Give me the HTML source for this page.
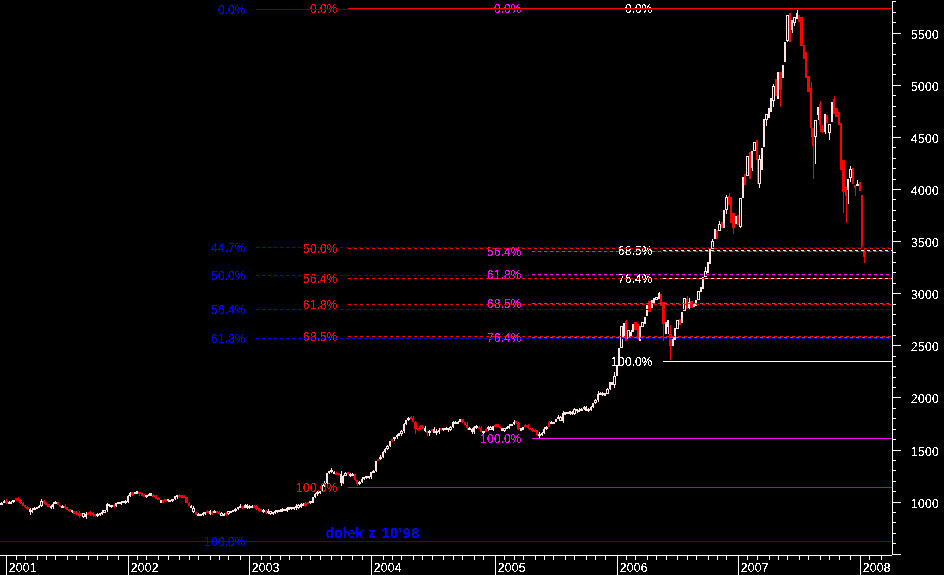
<!DOCTYPE html>
<html><head><meta charset="utf-8"><title>chart</title>
<style>
html,body{margin:0;padding:0;background:#000;}
body{width:944px;height:575px;overflow:hidden;}
svg{display:block;}
text{font-family:"Liberation Sans",sans-serif;font-size:12px;}
.b{font-weight:bold;font-size:14px;}
</style></head><body>
<svg width="944" height="575" viewBox="0 0 944 575">
<rect width="944" height="575" fill="#000"/>
<g shape-rendering="crispEdges">
<rect x="-1" y="505" width="1" height="3" fill="#ffe4e1"/>
<rect x="-2" y="505" width="2" height="2" fill="#ffe4e1"/>
<rect x="1" y="502" width="1" height="3" fill="#ffe4e1"/>
<rect x="0" y="503" width="3" height="2" fill="#ffe4e1"/>
<rect x="4" y="500" width="1" height="3" fill="#ffe4e1"/>
<rect x="3" y="501" width="2" height="2" fill="#ffe4e1"/>
<rect x="6" y="499" width="1" height="5" fill="#ff0000"/>
<rect x="5" y="501" width="3" height="2" fill="#ff0000"/>
<rect x="9" y="501" width="1" height="3" fill="#ffe4e1"/>
<rect x="8" y="502" width="2" height="2" fill="#ffe4e1"/>
<rect x="11" y="501" width="1" height="3" fill="#ffe4e1"/>
<rect x="10" y="502" width="2" height="2" fill="#ffe4e1"/>
<rect x="13" y="500" width="1" height="3" fill="#ffe4e1"/>
<rect x="12" y="500" width="3" height="2" fill="#ffe4e1"/>
<rect x="16" y="498" width="1" height="3" fill="#ff0000"/>
<rect x="15" y="498" width="2" height="2" fill="#ff0000"/>
<rect x="18" y="497" width="1" height="4" fill="#ff0000"/>
<rect x="17" y="498" width="2" height="2" fill="#ff0000"/>
<rect x="20" y="499" width="1" height="5" fill="#ff0000"/>
<rect x="19" y="500" width="3" height="3" fill="#ff0000"/>
<rect x="23" y="502" width="1" height="4" fill="#ff0000"/>
<rect x="22" y="503" width="2" height="3" fill="#ff0000"/>
<rect x="25" y="505" width="1" height="3" fill="#ff0000"/>
<rect x="24" y="505" width="2" height="2" fill="#ff0000"/>
<rect x="27" y="506" width="1" height="4" fill="#ff0000"/>
<rect x="26" y="507" width="3" height="2" fill="#ff0000"/>
<rect x="30" y="508" width="1" height="7" fill="#ffe4e1"/>
<rect x="29" y="509" width="2" height="3" fill="#ffe4e1"/>
<rect x="32" y="508" width="1" height="5" fill="#ffe4e1"/>
<rect x="31" y="510" width="2" height="2" fill="#ffe4e1"/>
<rect x="34" y="507" width="1" height="3" fill="#ffe4e1"/>
<rect x="33" y="508" width="3" height="2" fill="#ffe4e1"/>
<rect x="37" y="507" width="1" height="2" fill="#ffe4e1"/>
<rect x="36" y="507" width="2" height="2" fill="#ffe4e1"/>
<rect x="39" y="505" width="1" height="3" fill="#ffe4e1"/>
<rect x="38" y="506" width="2" height="2" fill="#ffe4e1"/>
<rect x="41" y="499" width="1" height="8" fill="#ffe4e1"/>
<rect x="40" y="501" width="3" height="5" fill="#ffe4e1"/>
<rect x="41" y="502" width="1" height="3" fill="#000"/>
<rect x="44" y="500" width="1" height="4" fill="#ff0000"/>
<rect x="43" y="501" width="2" height="2" fill="#ff0000"/>
<rect x="46" y="502" width="1" height="3" fill="#ff0000"/>
<rect x="45" y="502" width="2" height="3" fill="#ff0000"/>
<rect x="48" y="504" width="1" height="3" fill="#ff0000"/>
<rect x="47" y="504" width="3" height="3" fill="#ff0000"/>
<rect x="51" y="505" width="1" height="4" fill="#ffe4e1"/>
<rect x="50" y="506" width="2" height="2" fill="#ffe4e1"/>
<rect x="53" y="502" width="1" height="7" fill="#ffe4e1"/>
<rect x="52" y="504" width="2" height="3" fill="#ffe4e1"/>
<rect x="55" y="501" width="1" height="3" fill="#ffe4e1"/>
<rect x="54" y="502" width="3" height="2" fill="#ffe4e1"/>
<rect x="58" y="502" width="1" height="3" fill="#ff0000"/>
<rect x="57" y="502" width="2" height="3" fill="#ff0000"/>
<rect x="60" y="505" width="1" height="2" fill="#ff0000"/>
<rect x="59" y="505" width="2" height="2" fill="#ff0000"/>
<rect x="62" y="505" width="1" height="3" fill="#ffe4e1"/>
<rect x="61" y="506" width="3" height="2" fill="#ffe4e1"/>
<rect x="65" y="504" width="1" height="5" fill="#ff0000"/>
<rect x="64" y="506" width="2" height="2" fill="#ff0000"/>
<rect x="67" y="507" width="1" height="3" fill="#ff0000"/>
<rect x="66" y="507" width="2" height="3" fill="#ff0000"/>
<rect x="69" y="509" width="1" height="3" fill="#ff0000"/>
<rect x="68" y="509" width="3" height="2" fill="#ff0000"/>
<rect x="72" y="510" width="1" height="3" fill="#ffe4e1"/>
<rect x="71" y="510" width="2" height="2" fill="#ffe4e1"/>
<rect x="74" y="511" width="1" height="3" fill="#ff0000"/>
<rect x="73" y="511" width="2" height="3" fill="#ff0000"/>
<rect x="76" y="511" width="1" height="4" fill="#ff0000"/>
<rect x="75" y="512" width="3" height="2" fill="#ff0000"/>
<rect x="79" y="511" width="1" height="7" fill="#ff0000"/>
<rect x="78" y="513" width="2" height="3" fill="#ff0000"/>
<rect x="81" y="513" width="1" height="3" fill="#ff0000"/>
<rect x="80" y="513" width="2" height="3" fill="#ff0000"/>
<rect x="83" y="513" width="1" height="5" fill="#ffe4e1"/>
<rect x="82" y="513" width="3" height="4" fill="#ffe4e1"/>
<rect x="83" y="514" width="1" height="2" fill="#000"/>
<rect x="86" y="512" width="1" height="7" fill="#ffe4e1"/>
<rect x="85" y="514" width="2" height="3" fill="#ffe4e1"/>
<rect x="88" y="512" width="1" height="3" fill="#ff0000"/>
<rect x="87" y="513" width="2" height="2" fill="#ff0000"/>
<rect x="90" y="511" width="1" height="5" fill="#ff0000"/>
<rect x="89" y="512" width="3" height="2" fill="#ff0000"/>
<rect x="93" y="512" width="1" height="5" fill="#ff0000"/>
<rect x="92" y="513" width="2" height="2" fill="#ff0000"/>
<rect x="95" y="514" width="1" height="3" fill="#ff0000"/>
<rect x="94" y="514" width="2" height="2" fill="#ff0000"/>
<rect x="97" y="513" width="1" height="4" fill="#ffe4e1"/>
<rect x="96" y="514" width="3" height="2" fill="#ffe4e1"/>
<rect x="100" y="513" width="1" height="3" fill="#ffe4e1"/>
<rect x="99" y="513" width="2" height="2" fill="#ffe4e1"/>
<rect x="102" y="510" width="1" height="5" fill="#ffe4e1"/>
<rect x="101" y="512" width="2" height="2" fill="#ffe4e1"/>
<rect x="104" y="510" width="1" height="3" fill="#ffe4e1"/>
<rect x="103" y="510" width="3" height="3" fill="#ffe4e1"/>
<rect x="104" y="511" width="1" height="1" fill="#000"/>
<rect x="107" y="503" width="1" height="9" fill="#ffe4e1"/>
<rect x="106" y="504" width="2" height="6" fill="#ffe4e1"/>
<rect x="109" y="504" width="1" height="3" fill="#ffe4e1"/>
<rect x="108" y="504" width="2" height="2" fill="#ffe4e1"/>
<rect x="111" y="505" width="1" height="3" fill="#ffe4e1"/>
<rect x="110" y="505" width="3" height="2" fill="#ffe4e1"/>
<rect x="114" y="504" width="1" height="4" fill="#ff0000"/>
<rect x="113" y="505" width="2" height="2" fill="#ff0000"/>
<rect x="116" y="503" width="1" height="4" fill="#ffe4e1"/>
<rect x="115" y="503" width="2" height="3" fill="#ffe4e1"/>
<rect x="118" y="502" width="1" height="2" fill="#ffe4e1"/>
<rect x="117" y="502" width="3" height="2" fill="#ffe4e1"/>
<rect x="121" y="501" width="1" height="4" fill="#ffe4e1"/>
<rect x="120" y="502" width="2" height="2" fill="#ffe4e1"/>
<rect x="123" y="501" width="1" height="2" fill="#ffe4e1"/>
<rect x="122" y="501" width="2" height="2" fill="#ffe4e1"/>
<rect x="125" y="500" width="1" height="4" fill="#ffe4e1"/>
<rect x="124" y="501" width="3" height="2" fill="#ffe4e1"/>
<rect x="128" y="495" width="1" height="8" fill="#ffe4e1"/>
<rect x="127" y="496" width="2" height="6" fill="#ffe4e1"/>
<rect x="130" y="492" width="1" height="5" fill="#ffe4e1"/>
<rect x="129" y="493" width="2" height="3" fill="#ffe4e1"/>
<rect x="132" y="492" width="1" height="4" fill="#ff0000"/>
<rect x="131" y="492" width="3" height="3" fill="#ff0000"/>
<rect x="135" y="492" width="1" height="2" fill="#ffe4e1"/>
<rect x="134" y="492" width="2" height="2" fill="#ffe4e1"/>
<rect x="137" y="491" width="1" height="3" fill="#ffe4e1"/>
<rect x="136" y="491" width="2" height="3" fill="#ffe4e1"/>
<rect x="139" y="492" width="1" height="4" fill="#ff0000"/>
<rect x="138" y="492" width="3" height="2" fill="#ff0000"/>
<rect x="142" y="493" width="1" height="3" fill="#ff0000"/>
<rect x="141" y="493" width="2" height="3" fill="#ff0000"/>
<rect x="144" y="494" width="1" height="3" fill="#ff0000"/>
<rect x="143" y="495" width="2" height="2" fill="#ff0000"/>
<rect x="146" y="495" width="1" height="3" fill="#ffe4e1"/>
<rect x="145" y="495" width="3" height="2" fill="#ffe4e1"/>
<rect x="149" y="493" width="1" height="3" fill="#ffe4e1"/>
<rect x="148" y="494" width="2" height="2" fill="#ffe4e1"/>
<rect x="151" y="493" width="1" height="3" fill="#ffe4e1"/>
<rect x="150" y="493" width="2" height="3" fill="#ffe4e1"/>
<rect x="153" y="494" width="1" height="3" fill="#ff0000"/>
<rect x="152" y="495" width="3" height="2" fill="#ff0000"/>
<rect x="156" y="495" width="1" height="4" fill="#ff0000"/>
<rect x="155" y="496" width="2" height="3" fill="#ff0000"/>
<rect x="158" y="497" width="1" height="3" fill="#ff0000"/>
<rect x="157" y="498" width="3" height="2" fill="#ff0000"/>
<rect x="161" y="500" width="1" height="3" fill="#ffe4e1"/>
<rect x="160" y="500" width="2" height="3" fill="#ffe4e1"/>
<rect x="163" y="500" width="1" height="3" fill="#ff0000"/>
<rect x="162" y="500" width="2" height="3" fill="#ff0000"/>
<rect x="165" y="499" width="1" height="3" fill="#ff0000"/>
<rect x="164" y="499" width="3" height="2" fill="#ff0000"/>
<rect x="168" y="499" width="1" height="3" fill="#ffe4e1"/>
<rect x="167" y="499" width="2" height="2" fill="#ffe4e1"/>
<rect x="170" y="500" width="1" height="2" fill="#ffe4e1"/>
<rect x="169" y="500" width="2" height="2" fill="#ffe4e1"/>
<rect x="172" y="499" width="1" height="3" fill="#ffe4e1"/>
<rect x="171" y="499" width="3" height="2" fill="#ffe4e1"/>
<rect x="175" y="496" width="1" height="4" fill="#ffe4e1"/>
<rect x="174" y="496" width="2" height="3" fill="#ffe4e1"/>
<rect x="177" y="495" width="1" height="4" fill="#ffe4e1"/>
<rect x="176" y="495" width="2" height="2" fill="#ffe4e1"/>
<rect x="179" y="494" width="1" height="4" fill="#ff0000"/>
<rect x="178" y="495" width="3" height="2" fill="#ff0000"/>
<rect x="182" y="495" width="1" height="3" fill="#ff0000"/>
<rect x="181" y="495" width="2" height="3" fill="#ff0000"/>
<rect x="184" y="495" width="1" height="3" fill="#ff0000"/>
<rect x="183" y="496" width="2" height="2" fill="#ff0000"/>
<rect x="186" y="497" width="1" height="6" fill="#ff0000"/>
<rect x="185" y="497" width="3" height="6" fill="#ff0000"/>
<rect x="189" y="502" width="1" height="4" fill="#ff0000"/>
<rect x="188" y="503" width="2" height="3" fill="#ff0000"/>
<rect x="191" y="505" width="1" height="3" fill="#ffe4e1"/>
<rect x="190" y="506" width="2" height="2" fill="#ffe4e1"/>
<rect x="193" y="506" width="1" height="7" fill="#ffe4e1"/>
<rect x="192" y="508" width="3" height="4" fill="#ffe4e1"/>
<rect x="193" y="509" width="1" height="2" fill="#000"/>
<rect x="196" y="512" width="1" height="3" fill="#ff0000"/>
<rect x="195" y="512" width="2" height="3" fill="#ff0000"/>
<rect x="198" y="513" width="1" height="3" fill="#ffe4e1"/>
<rect x="197" y="514" width="2" height="2" fill="#ffe4e1"/>
<rect x="200" y="514" width="1" height="2" fill="#ffe4e1"/>
<rect x="199" y="514" width="3" height="2" fill="#ffe4e1"/>
<rect x="203" y="512" width="1" height="4" fill="#ffe4e1"/>
<rect x="202" y="513" width="2" height="2" fill="#ffe4e1"/>
<rect x="205" y="512" width="1" height="3" fill="#ffe4e1"/>
<rect x="204" y="512" width="2" height="2" fill="#ffe4e1"/>
<rect x="207" y="510" width="1" height="3" fill="#ff0000"/>
<rect x="206" y="511" width="3" height="2" fill="#ff0000"/>
<rect x="210" y="510" width="1" height="5" fill="#ffe4e1"/>
<rect x="209" y="511" width="2" height="3" fill="#ffe4e1"/>
<rect x="212" y="511" width="1" height="4" fill="#ff0000"/>
<rect x="211" y="512" width="2" height="2" fill="#ff0000"/>
<rect x="214" y="510" width="1" height="3" fill="#ffe4e1"/>
<rect x="213" y="511" width="3" height="2" fill="#ffe4e1"/>
<rect x="217" y="511" width="1" height="2" fill="#ff0000"/>
<rect x="216" y="511" width="2" height="2" fill="#ff0000"/>
<rect x="219" y="511" width="1" height="4" fill="#ff0000"/>
<rect x="218" y="512" width="2" height="2" fill="#ff0000"/>
<rect x="221" y="512" width="1" height="4" fill="#ffe4e1"/>
<rect x="220" y="513" width="3" height="3" fill="#ffe4e1"/>
<rect x="221" y="514" width="1" height="1" fill="#000"/>
<rect x="224" y="513" width="1" height="3" fill="#ffe4e1"/>
<rect x="223" y="514" width="2" height="2" fill="#ffe4e1"/>
<rect x="226" y="512" width="1" height="4" fill="#ff0000"/>
<rect x="225" y="513" width="2" height="2" fill="#ff0000"/>
<rect x="228" y="511" width="1" height="4" fill="#ffe4e1"/>
<rect x="227" y="511" width="3" height="3" fill="#ffe4e1"/>
<rect x="228" y="512" width="1" height="1" fill="#000"/>
<rect x="231" y="511" width="1" height="2" fill="#ffe4e1"/>
<rect x="230" y="511" width="2" height="2" fill="#ffe4e1"/>
<rect x="233" y="510" width="1" height="2" fill="#ffe4e1"/>
<rect x="232" y="510" width="2" height="2" fill="#ffe4e1"/>
<rect x="235" y="508" width="1" height="4" fill="#ffe4e1"/>
<rect x="234" y="509" width="3" height="2" fill="#ffe4e1"/>
<rect x="238" y="507" width="1" height="3" fill="#ffe4e1"/>
<rect x="237" y="507" width="2" height="2" fill="#ffe4e1"/>
<rect x="240" y="504" width="1" height="4" fill="#ffe4e1"/>
<rect x="239" y="506" width="2" height="2" fill="#ffe4e1"/>
<rect x="242" y="506" width="1" height="3" fill="#ff0000"/>
<rect x="241" y="506" width="3" height="2" fill="#ff0000"/>
<rect x="245" y="504" width="1" height="4" fill="#ffe4e1"/>
<rect x="244" y="505" width="2" height="3" fill="#ffe4e1"/>
<rect x="247" y="504" width="1" height="5" fill="#ffe4e1"/>
<rect x="246" y="505" width="2" height="3" fill="#ffe4e1"/>
<rect x="249" y="505" width="1" height="4" fill="#ffe4e1"/>
<rect x="248" y="506" width="3" height="2" fill="#ffe4e1"/>
<rect x="252" y="505" width="1" height="3" fill="#ffe4e1"/>
<rect x="251" y="506" width="2" height="2" fill="#ffe4e1"/>
<rect x="254" y="505" width="1" height="3" fill="#ff0000"/>
<rect x="253" y="506" width="2" height="2" fill="#ff0000"/>
<rect x="256" y="505" width="1" height="5" fill="#ff0000"/>
<rect x="255" y="506" width="3" height="3" fill="#ff0000"/>
<rect x="259" y="508" width="1" height="4" fill="#ff0000"/>
<rect x="258" y="508" width="2" height="3" fill="#ff0000"/>
<rect x="261" y="509" width="1" height="3" fill="#ff0000"/>
<rect x="260" y="509" width="2" height="2" fill="#ff0000"/>
<rect x="263" y="509" width="1" height="4" fill="#ffe4e1"/>
<rect x="262" y="510" width="3" height="2" fill="#ffe4e1"/>
<rect x="266" y="510" width="1" height="4" fill="#ff0000"/>
<rect x="265" y="511" width="2" height="2" fill="#ff0000"/>
<rect x="268" y="509" width="1" height="5" fill="#ffe4e1"/>
<rect x="267" y="511" width="2" height="2" fill="#ffe4e1"/>
<rect x="270" y="511" width="1" height="4" fill="#ffe4e1"/>
<rect x="269" y="511" width="3" height="3" fill="#ffe4e1"/>
<rect x="270" y="512" width="1" height="1" fill="#000"/>
<rect x="273" y="512" width="1" height="3" fill="#ffe4e1"/>
<rect x="272" y="512" width="2" height="2" fill="#ffe4e1"/>
<rect x="275" y="510" width="1" height="4" fill="#ffe4e1"/>
<rect x="274" y="511" width="2" height="2" fill="#ffe4e1"/>
<rect x="277" y="510" width="1" height="3" fill="#ffe4e1"/>
<rect x="276" y="510" width="3" height="2" fill="#ffe4e1"/>
<rect x="280" y="509" width="1" height="3" fill="#ffe4e1"/>
<rect x="279" y="510" width="2" height="2" fill="#ffe4e1"/>
<rect x="282" y="508" width="1" height="4" fill="#ffe4e1"/>
<rect x="281" y="509" width="2" height="3" fill="#ffe4e1"/>
<rect x="284" y="509" width="1" height="2" fill="#ffe4e1"/>
<rect x="283" y="509" width="3" height="2" fill="#ffe4e1"/>
<rect x="287" y="507" width="1" height="5" fill="#ffe4e1"/>
<rect x="286" y="508" width="2" height="3" fill="#ffe4e1"/>
<rect x="289" y="507" width="1" height="3" fill="#ffe4e1"/>
<rect x="288" y="507" width="2" height="3" fill="#ffe4e1"/>
<rect x="291" y="507" width="1" height="3" fill="#ffe4e1"/>
<rect x="290" y="507" width="3" height="2" fill="#ffe4e1"/>
<rect x="294" y="507" width="1" height="3" fill="#ffe4e1"/>
<rect x="293" y="507" width="2" height="2" fill="#ffe4e1"/>
<rect x="296" y="504" width="1" height="6" fill="#ffe4e1"/>
<rect x="295" y="506" width="2" height="2" fill="#ffe4e1"/>
<rect x="298" y="504" width="1" height="5" fill="#ffe4e1"/>
<rect x="297" y="505" width="3" height="3" fill="#ffe4e1"/>
<rect x="298" y="506" width="1" height="1" fill="#000"/>
<rect x="301" y="503" width="1" height="5" fill="#ffe4e1"/>
<rect x="300" y="504" width="2" height="3" fill="#ffe4e1"/>
<rect x="303" y="503" width="1" height="3" fill="#ffe4e1"/>
<rect x="302" y="504" width="2" height="2" fill="#ffe4e1"/>
<rect x="305" y="502" width="1" height="5" fill="#ff0000"/>
<rect x="304" y="503" width="3" height="3" fill="#ff0000"/>
<rect x="308" y="502" width="1" height="2" fill="#ff0000"/>
<rect x="307" y="502" width="2" height="2" fill="#ff0000"/>
<rect x="310" y="501" width="1" height="3" fill="#ffe4e1"/>
<rect x="309" y="501" width="3" height="2" fill="#ffe4e1"/>
<rect x="313" y="497" width="1" height="6" fill="#ffe4e1"/>
<rect x="312" y="497" width="2" height="6" fill="#ffe4e1"/>
<rect x="315" y="493" width="1" height="5" fill="#ffe4e1"/>
<rect x="314" y="494" width="2" height="3" fill="#ffe4e1"/>
<rect x="317" y="491" width="1" height="5" fill="#ffe4e1"/>
<rect x="316" y="492" width="3" height="2" fill="#ffe4e1"/>
<rect x="320" y="491" width="1" height="3" fill="#ffe4e1"/>
<rect x="319" y="491" width="2" height="2" fill="#ffe4e1"/>
<rect x="322" y="485" width="1" height="7" fill="#ffe4e1"/>
<rect x="321" y="486" width="2" height="5" fill="#ffe4e1"/>
<rect x="324" y="481" width="1" height="6" fill="#ffe4e1"/>
<rect x="323" y="483" width="3" height="3" fill="#ffe4e1"/>
<rect x="324" y="484" width="1" height="1" fill="#000"/>
<rect x="327" y="473" width="1" height="12" fill="#ffe4e1"/>
<rect x="326" y="473" width="2" height="10" fill="#ffe4e1"/>
<rect x="329" y="471" width="1" height="3" fill="#ffe4e1"/>
<rect x="328" y="471" width="2" height="2" fill="#ffe4e1"/>
<rect x="331" y="468" width="1" height="5" fill="#ffe4e1"/>
<rect x="330" y="470" width="3" height="2" fill="#ffe4e1"/>
<rect x="334" y="471" width="1" height="3" fill="#ffe4e1"/>
<rect x="333" y="472" width="2" height="2" fill="#ffe4e1"/>
<rect x="336" y="472" width="1" height="3" fill="#ff0000"/>
<rect x="335" y="473" width="2" height="2" fill="#ff0000"/>
<rect x="338" y="473" width="1" height="2" fill="#ff0000"/>
<rect x="337" y="473" width="3" height="2" fill="#ff0000"/>
<rect x="341" y="471" width="1" height="15" fill="#ffe4e1"/>
<rect x="340" y="474" width="2" height="9" fill="#ffe4e1"/>
<rect x="343" y="475" width="1" height="9" fill="#ffe4e1"/>
<rect x="342" y="476" width="2" height="7" fill="#ffe4e1"/>
<rect x="345" y="472" width="1" height="4" fill="#ffe4e1"/>
<rect x="344" y="473" width="3" height="3" fill="#ffe4e1"/>
<rect x="345" y="474" width="1" height="1" fill="#000"/>
<rect x="348" y="472" width="1" height="3" fill="#ff0000"/>
<rect x="347" y="472" width="2" height="2" fill="#ff0000"/>
<rect x="350" y="473" width="1" height="4" fill="#ffe4e1"/>
<rect x="349" y="474" width="2" height="2" fill="#ffe4e1"/>
<rect x="352" y="473" width="1" height="3" fill="#ffe4e1"/>
<rect x="351" y="474" width="3" height="2" fill="#ffe4e1"/>
<rect x="355" y="474" width="1" height="7" fill="#ff0000"/>
<rect x="354" y="474" width="2" height="6" fill="#ff0000"/>
<rect x="357" y="480" width="1" height="6" fill="#ff0000"/>
<rect x="356" y="480" width="2" height="4" fill="#ff0000"/>
<rect x="359" y="481" width="1" height="4" fill="#ffe4e1"/>
<rect x="358" y="482" width="3" height="2" fill="#ffe4e1"/>
<rect x="362" y="477" width="1" height="6" fill="#ffe4e1"/>
<rect x="361" y="479" width="2" height="3" fill="#ffe4e1"/>
<rect x="364" y="477" width="1" height="3" fill="#ffe4e1"/>
<rect x="363" y="477" width="2" height="2" fill="#ffe4e1"/>
<rect x="366" y="476" width="1" height="3" fill="#ffe4e1"/>
<rect x="365" y="476" width="3" height="2" fill="#ffe4e1"/>
<rect x="369" y="476" width="1" height="3" fill="#ffe4e1"/>
<rect x="368" y="476" width="2" height="2" fill="#ffe4e1"/>
<rect x="371" y="472" width="1" height="7" fill="#ffe4e1"/>
<rect x="370" y="472" width="2" height="5" fill="#ffe4e1"/>
<rect x="373" y="470" width="1" height="3" fill="#ffe4e1"/>
<rect x="372" y="471" width="3" height="2" fill="#ffe4e1"/>
<rect x="376" y="461" width="1" height="11" fill="#ffe4e1"/>
<rect x="375" y="461" width="2" height="10" fill="#ffe4e1"/>
<rect x="378" y="459" width="1" height="2" fill="#ff0000"/>
<rect x="377" y="459" width="2" height="2" fill="#ff0000"/>
<rect x="380" y="455" width="1" height="5" fill="#ffe4e1"/>
<rect x="379" y="457" width="3" height="2" fill="#ffe4e1"/>
<rect x="383" y="451" width="1" height="7" fill="#ffe4e1"/>
<rect x="382" y="452" width="2" height="5" fill="#ffe4e1"/>
<rect x="385" y="448" width="1" height="5" fill="#ffe4e1"/>
<rect x="384" y="449" width="2" height="3" fill="#ffe4e1"/>
<rect x="387" y="445" width="1" height="5" fill="#ffe4e1"/>
<rect x="386" y="446" width="3" height="3" fill="#ffe4e1"/>
<rect x="387" y="447" width="1" height="1" fill="#000"/>
<rect x="390" y="441" width="1" height="6" fill="#ffe4e1"/>
<rect x="389" y="441" width="2" height="5" fill="#ffe4e1"/>
<rect x="392" y="439" width="1" height="3" fill="#ff0000"/>
<rect x="391" y="439" width="2" height="2" fill="#ff0000"/>
<rect x="394" y="437" width="1" height="4" fill="#ffe4e1"/>
<rect x="393" y="437" width="3" height="2" fill="#ffe4e1"/>
<rect x="397" y="434" width="1" height="5" fill="#ffe4e1"/>
<rect x="396" y="435" width="2" height="2" fill="#ffe4e1"/>
<rect x="399" y="433" width="1" height="3" fill="#ffe4e1"/>
<rect x="398" y="433" width="2" height="3" fill="#ffe4e1"/>
<rect x="401" y="430" width="1" height="6" fill="#ffe4e1"/>
<rect x="400" y="431" width="3" height="3" fill="#ffe4e1"/>
<rect x="401" y="432" width="1" height="1" fill="#000"/>
<rect x="404" y="423" width="1" height="10" fill="#ffe4e1"/>
<rect x="403" y="424" width="2" height="7" fill="#ffe4e1"/>
<rect x="406" y="420" width="1" height="5" fill="#ffe4e1"/>
<rect x="405" y="420" width="2" height="4" fill="#ffe4e1"/>
<rect x="408" y="417" width="1" height="4" fill="#ffe4e1"/>
<rect x="407" y="418" width="3" height="2" fill="#ffe4e1"/>
<rect x="411" y="416" width="1" height="3" fill="#ff0000"/>
<rect x="410" y="417" width="2" height="2" fill="#ff0000"/>
<rect x="413" y="416" width="1" height="6" fill="#ff0000"/>
<rect x="412" y="418" width="2" height="4" fill="#ff0000"/>
<rect x="415" y="421" width="1" height="13" fill="#ff0000"/>
<rect x="414" y="422" width="3" height="7" fill="#ff0000"/>
<rect x="418" y="428" width="1" height="3" fill="#ff0000"/>
<rect x="417" y="428" width="2" height="2" fill="#ff0000"/>
<rect x="420" y="425" width="1" height="5" fill="#ff0000"/>
<rect x="419" y="426" width="2" height="3" fill="#ff0000"/>
<rect x="422" y="425" width="1" height="4" fill="#ff0000"/>
<rect x="421" y="426" width="3" height="2" fill="#ff0000"/>
<rect x="425" y="426" width="1" height="6" fill="#ffe4e1"/>
<rect x="424" y="428" width="2" height="3" fill="#ffe4e1"/>
<rect x="427" y="431" width="1" height="5" fill="#ff0000"/>
<rect x="426" y="431" width="2" height="2" fill="#ff0000"/>
<rect x="429" y="430" width="1" height="6" fill="#ffe4e1"/>
<rect x="428" y="431" width="3" height="2" fill="#ffe4e1"/>
<rect x="432" y="429" width="1" height="3" fill="#ff0000"/>
<rect x="431" y="429" width="2" height="2" fill="#ff0000"/>
<rect x="434" y="427" width="1" height="6" fill="#ffe4e1"/>
<rect x="433" y="429" width="2" height="4" fill="#ffe4e1"/>
<rect x="436" y="429" width="1" height="6" fill="#ffe4e1"/>
<rect x="435" y="431" width="3" height="2" fill="#ffe4e1"/>
<rect x="439" y="428" width="1" height="6" fill="#ffe4e1"/>
<rect x="438" y="430" width="2" height="2" fill="#ffe4e1"/>
<rect x="441" y="428" width="1" height="3" fill="#ff0000"/>
<rect x="440" y="428" width="2" height="2" fill="#ff0000"/>
<rect x="443" y="428" width="1" height="3" fill="#ffe4e1"/>
<rect x="442" y="428" width="3" height="2" fill="#ffe4e1"/>
<rect x="446" y="427" width="1" height="3" fill="#ffe4e1"/>
<rect x="445" y="428" width="2" height="2" fill="#ffe4e1"/>
<rect x="448" y="428" width="1" height="4" fill="#ffe4e1"/>
<rect x="447" y="428" width="2" height="2" fill="#ffe4e1"/>
<rect x="450" y="426" width="1" height="5" fill="#ffe4e1"/>
<rect x="449" y="427" width="3" height="3" fill="#ffe4e1"/>
<rect x="450" y="428" width="1" height="1" fill="#000"/>
<rect x="453" y="421" width="1" height="7" fill="#ffe4e1"/>
<rect x="452" y="422" width="2" height="5" fill="#ffe4e1"/>
<rect x="455" y="421" width="1" height="3" fill="#ffe4e1"/>
<rect x="454" y="422" width="3" height="2" fill="#ffe4e1"/>
<rect x="458" y="421" width="1" height="3" fill="#ffe4e1"/>
<rect x="457" y="422" width="2" height="2" fill="#ffe4e1"/>
<rect x="460" y="419" width="1" height="3" fill="#ffe4e1"/>
<rect x="459" y="419" width="2" height="3" fill="#ffe4e1"/>
<rect x="462" y="419" width="1" height="4" fill="#ff0000"/>
<rect x="461" y="419" width="3" height="3" fill="#ff0000"/>
<rect x="465" y="422" width="1" height="3" fill="#ff0000"/>
<rect x="464" y="422" width="2" height="3" fill="#ff0000"/>
<rect x="467" y="422" width="1" height="8" fill="#ff0000"/>
<rect x="466" y="425" width="2" height="3" fill="#ff0000"/>
<rect x="469" y="427" width="1" height="3" fill="#ffe4e1"/>
<rect x="468" y="428" width="3" height="2" fill="#ffe4e1"/>
<rect x="472" y="428" width="1" height="6" fill="#ffe4e1"/>
<rect x="471" y="429" width="2" height="3" fill="#ffe4e1"/>
<rect x="474" y="426" width="1" height="8" fill="#ffe4e1"/>
<rect x="473" y="427" width="2" height="5" fill="#ffe4e1"/>
<rect x="476" y="425" width="1" height="4" fill="#ffe4e1"/>
<rect x="475" y="426" width="3" height="2" fill="#ffe4e1"/>
<rect x="479" y="426" width="1" height="3" fill="#ff0000"/>
<rect x="478" y="427" width="2" height="2" fill="#ff0000"/>
<rect x="481" y="426" width="1" height="6" fill="#ff0000"/>
<rect x="480" y="428" width="2" height="4" fill="#ff0000"/>
<rect x="483" y="431" width="1" height="3" fill="#ffe4e1"/>
<rect x="482" y="431" width="3" height="2" fill="#ffe4e1"/>
<rect x="486" y="428" width="1" height="4" fill="#ff0000"/>
<rect x="485" y="429" width="2" height="3" fill="#ff0000"/>
<rect x="488" y="426" width="1" height="5" fill="#ffe4e1"/>
<rect x="487" y="427" width="2" height="2" fill="#ffe4e1"/>
<rect x="490" y="426" width="1" height="4" fill="#ffe4e1"/>
<rect x="489" y="427" width="3" height="3" fill="#ffe4e1"/>
<rect x="490" y="428" width="1" height="1" fill="#000"/>
<rect x="493" y="426" width="1" height="5" fill="#ffe4e1"/>
<rect x="492" y="426" width="2" height="4" fill="#ffe4e1"/>
<rect x="495" y="424" width="1" height="3" fill="#ff0000"/>
<rect x="494" y="425" width="2" height="2" fill="#ff0000"/>
<rect x="497" y="424" width="1" height="3" fill="#ff0000"/>
<rect x="496" y="424" width="3" height="3" fill="#ff0000"/>
<rect x="500" y="426" width="1" height="3" fill="#ff0000"/>
<rect x="499" y="426" width="2" height="2" fill="#ff0000"/>
<rect x="502" y="428" width="1" height="3" fill="#ffe4e1"/>
<rect x="501" y="428" width="2" height="3" fill="#ffe4e1"/>
<rect x="504" y="428" width="1" height="4" fill="#ffe4e1"/>
<rect x="503" y="428" width="3" height="3" fill="#ffe4e1"/>
<rect x="504" y="429" width="1" height="1" fill="#000"/>
<rect x="507" y="426" width="1" height="3" fill="#ffe4e1"/>
<rect x="506" y="427" width="2" height="2" fill="#ffe4e1"/>
<rect x="509" y="424" width="1" height="5" fill="#ffe4e1"/>
<rect x="508" y="426" width="2" height="2" fill="#ffe4e1"/>
<rect x="511" y="424" width="1" height="2" fill="#ffe4e1"/>
<rect x="510" y="424" width="3" height="2" fill="#ffe4e1"/>
<rect x="514" y="420" width="1" height="5" fill="#ffe4e1"/>
<rect x="513" y="422" width="2" height="2" fill="#ffe4e1"/>
<rect x="516" y="421" width="1" height="3" fill="#ff0000"/>
<rect x="515" y="421" width="2" height="2" fill="#ff0000"/>
<rect x="518" y="422" width="1" height="8" fill="#ff0000"/>
<rect x="517" y="423" width="3" height="6" fill="#ff0000"/>
<rect x="521" y="428" width="1" height="3" fill="#ffe4e1"/>
<rect x="520" y="428" width="2" height="3" fill="#ffe4e1"/>
<rect x="523" y="427" width="1" height="3" fill="#ffe4e1"/>
<rect x="522" y="427" width="2" height="3" fill="#ffe4e1"/>
<rect x="525" y="424" width="1" height="3" fill="#ff0000"/>
<rect x="524" y="425" width="3" height="2" fill="#ff0000"/>
<rect x="528" y="424" width="1" height="5" fill="#ff0000"/>
<rect x="527" y="425" width="2" height="3" fill="#ff0000"/>
<rect x="530" y="428" width="1" height="2" fill="#ff0000"/>
<rect x="529" y="428" width="2" height="2" fill="#ff0000"/>
<rect x="532" y="428" width="1" height="4" fill="#ff0000"/>
<rect x="531" y="429" width="3" height="2" fill="#ff0000"/>
<rect x="535" y="429" width="1" height="3" fill="#ff0000"/>
<rect x="534" y="430" width="2" height="2" fill="#ff0000"/>
<rect x="537" y="430" width="1" height="6" fill="#ff0000"/>
<rect x="536" y="430" width="2" height="5" fill="#ff0000"/>
<rect x="539" y="432" width="1" height="6" fill="#ffe4e1"/>
<rect x="538" y="434" width="3" height="2" fill="#ffe4e1"/>
<rect x="542" y="432" width="1" height="4" fill="#ffe4e1"/>
<rect x="541" y="433" width="2" height="2" fill="#ffe4e1"/>
<rect x="544" y="427" width="1" height="7" fill="#ffe4e1"/>
<rect x="543" y="429" width="2" height="4" fill="#ffe4e1"/>
<rect x="546" y="426" width="1" height="4" fill="#ffe4e1"/>
<rect x="545" y="427" width="3" height="2" fill="#ffe4e1"/>
<rect x="549" y="421" width="1" height="6" fill="#ff0000"/>
<rect x="548" y="422" width="2" height="5" fill="#ff0000"/>
<rect x="551" y="421" width="1" height="3" fill="#ffe4e1"/>
<rect x="550" y="422" width="2" height="2" fill="#ffe4e1"/>
<rect x="553" y="422" width="1" height="2" fill="#ffe4e1"/>
<rect x="552" y="422" width="3" height="2" fill="#ffe4e1"/>
<rect x="556" y="419" width="1" height="3" fill="#ffe4e1"/>
<rect x="555" y="419" width="2" height="3" fill="#ffe4e1"/>
<rect x="558" y="415" width="1" height="4" fill="#ffe4e1"/>
<rect x="557" y="417" width="2" height="2" fill="#ffe4e1"/>
<rect x="560" y="416" width="1" height="5" fill="#ffe4e1"/>
<rect x="559" y="417" width="3" height="4" fill="#ffe4e1"/>
<rect x="560" y="418" width="1" height="2" fill="#000"/>
<rect x="563" y="411" width="1" height="12" fill="#ffe4e1"/>
<rect x="562" y="413" width="2" height="8" fill="#ffe4e1"/>
<rect x="565" y="412" width="1" height="3" fill="#ffe4e1"/>
<rect x="564" y="412" width="2" height="3" fill="#ffe4e1"/>
<rect x="567" y="412" width="1" height="2" fill="#ffe4e1"/>
<rect x="566" y="412" width="3" height="2" fill="#ffe4e1"/>
<rect x="570" y="411" width="1" height="4" fill="#ffe4e1"/>
<rect x="569" y="411" width="2" height="3" fill="#ffe4e1"/>
<rect x="572" y="411" width="1" height="4" fill="#ffe4e1"/>
<rect x="571" y="412" width="2" height="2" fill="#ffe4e1"/>
<rect x="574" y="408" width="1" height="7" fill="#ffe4e1"/>
<rect x="573" y="409" width="3" height="5" fill="#ffe4e1"/>
<rect x="574" y="410" width="1" height="3" fill="#000"/>
<rect x="577" y="409" width="1" height="4" fill="#ffe4e1"/>
<rect x="576" y="409" width="2" height="2" fill="#ffe4e1"/>
<rect x="579" y="408" width="1" height="4" fill="#ffe4e1"/>
<rect x="578" y="410" width="2" height="2" fill="#ffe4e1"/>
<rect x="581" y="408" width="1" height="3" fill="#ffe4e1"/>
<rect x="580" y="409" width="3" height="2" fill="#ffe4e1"/>
<rect x="584" y="406" width="1" height="4" fill="#ffe4e1"/>
<rect x="583" y="407" width="2" height="2" fill="#ffe4e1"/>
<rect x="586" y="406" width="1" height="5" fill="#ffe4e1"/>
<rect x="585" y="407" width="2" height="4" fill="#ffe4e1"/>
<rect x="588" y="408" width="1" height="4" fill="#ffe4e1"/>
<rect x="587" y="409" width="3" height="2" fill="#ffe4e1"/>
<rect x="591" y="406" width="1" height="5" fill="#ffe4e1"/>
<rect x="590" y="407" width="2" height="3" fill="#ffe4e1"/>
<rect x="593" y="403" width="1" height="5" fill="#ffe4e1"/>
<rect x="592" y="403" width="2" height="4" fill="#ffe4e1"/>
<rect x="595" y="399" width="1" height="5" fill="#ffe4e1"/>
<rect x="594" y="400" width="3" height="3" fill="#ffe4e1"/>
<rect x="595" y="401" width="1" height="1" fill="#000"/>
<rect x="598" y="391" width="1" height="11" fill="#ffe4e1"/>
<rect x="597" y="394" width="2" height="6" fill="#ffe4e1"/>
<rect x="600" y="392" width="1" height="3" fill="#ffe4e1"/>
<rect x="599" y="393" width="2" height="2" fill="#ffe4e1"/>
<rect x="602" y="392" width="1" height="4" fill="#ffe4e1"/>
<rect x="601" y="393" width="3" height="2" fill="#ffe4e1"/>
<rect x="605" y="393" width="1" height="3" fill="#ffe4e1"/>
<rect x="604" y="393" width="2" height="3" fill="#ffe4e1"/>
<rect x="607" y="388" width="1" height="6" fill="#ffe4e1"/>
<rect x="606" y="389" width="3" height="5" fill="#ffe4e1"/>
<rect x="607" y="390" width="1" height="3" fill="#000"/>
<rect x="610" y="382" width="1" height="8" fill="#ffe4e1"/>
<rect x="609" y="382" width="2" height="7" fill="#ffe4e1"/>
<rect x="612" y="382" width="1" height="3" fill="#ffe4e1"/>
<rect x="611" y="382" width="2" height="3" fill="#ffe4e1"/>
<rect x="614" y="372" width="1" height="16" fill="#ffe4e1"/>
<rect x="613" y="376" width="3" height="9" fill="#ffe4e1"/>
<rect x="614" y="377" width="1" height="7" fill="#000"/>
<rect x="617" y="365" width="1" height="11" fill="#ffe4e1"/>
<rect x="616" y="365" width="2" height="11" fill="#ffe4e1"/>
<rect x="619" y="348" width="1" height="18" fill="#ffe4e1"/>
<rect x="618" y="348" width="2" height="18" fill="#ffe4e1"/>
<rect x="621" y="326" width="1" height="22" fill="#ffe4e1"/>
<rect x="620" y="326" width="3" height="22" fill="#ffe4e1"/>
<rect x="621" y="327" width="1" height="20" fill="#000"/>
<rect x="624" y="323" width="1" height="14" fill="#ffe4e1"/>
<rect x="623" y="323" width="2" height="14" fill="#ffe4e1"/>
<rect x="626" y="320" width="1" height="21" fill="#ff0000"/>
<rect x="625" y="321" width="2" height="20" fill="#ff0000"/>
<rect x="628" y="330" width="1" height="9" fill="#ffe4e1"/>
<rect x="627" y="330" width="3" height="9" fill="#ffe4e1"/>
<rect x="628" y="331" width="1" height="7" fill="#000"/>
<rect x="631" y="330" width="1" height="7" fill="#ffe4e1"/>
<rect x="630" y="332" width="2" height="5" fill="#ffe4e1"/>
<rect x="633" y="324" width="1" height="8" fill="#ffe4e1"/>
<rect x="632" y="324" width="2" height="8" fill="#ffe4e1"/>
<rect x="635" y="322" width="1" height="8" fill="#ff0000"/>
<rect x="634" y="322" width="3" height="8" fill="#ff0000"/>
<rect x="638" y="324" width="1" height="16" fill="#ff0000"/>
<rect x="637" y="324" width="2" height="15" fill="#ff0000"/>
<rect x="640" y="326" width="1" height="15" fill="#ffe4e1"/>
<rect x="639" y="326" width="2" height="15" fill="#ffe4e1"/>
<rect x="642" y="322" width="1" height="5" fill="#ffe4e1"/>
<rect x="641" y="322" width="3" height="5" fill="#ffe4e1"/>
<rect x="642" y="323" width="1" height="3" fill="#000"/>
<rect x="645" y="317" width="1" height="7" fill="#ffe4e1"/>
<rect x="644" y="317" width="2" height="7" fill="#ffe4e1"/>
<rect x="647" y="305" width="1" height="11" fill="#ffe4e1"/>
<rect x="646" y="305" width="2" height="11" fill="#ffe4e1"/>
<rect x="649" y="301" width="1" height="11" fill="#ff0000"/>
<rect x="648" y="301" width="3" height="11" fill="#ff0000"/>
<rect x="652" y="300" width="1" height="8" fill="#ffe4e1"/>
<rect x="651" y="300" width="2" height="8" fill="#ffe4e1"/>
<rect x="654" y="298" width="1" height="6" fill="#ffe4e1"/>
<rect x="653" y="298" width="2" height="6" fill="#ffe4e1"/>
<rect x="656" y="297" width="1" height="3" fill="#ffe4e1"/>
<rect x="655" y="297" width="3" height="3" fill="#ffe4e1"/>
<rect x="656" y="298" width="1" height="1" fill="#000"/>
<rect x="659" y="292" width="1" height="7" fill="#ffe4e1"/>
<rect x="658" y="293" width="2" height="6" fill="#ffe4e1"/>
<rect x="661" y="294" width="1" height="12" fill="#ff0000"/>
<rect x="660" y="294" width="2" height="12" fill="#ff0000"/>
<rect x="663" y="302" width="1" height="39" fill="#ff0000"/>
<rect x="662" y="302" width="3" height="22" fill="#ff0000"/>
<rect x="666" y="322" width="1" height="12" fill="#ffe4e1"/>
<rect x="665" y="322" width="2" height="12" fill="#ffe4e1"/>
<rect x="668" y="320" width="1" height="14" fill="#ffe4e1"/>
<rect x="667" y="320" width="2" height="7" fill="#ffe4e1"/>
<rect x="670" y="325" width="1" height="35" fill="#ff0000"/>
<rect x="669" y="334" width="3" height="12" fill="#ff0000"/>
<rect x="673" y="336" width="1" height="10" fill="#ffe4e1"/>
<rect x="672" y="336" width="2" height="10" fill="#ffe4e1"/>
<rect x="675" y="328" width="1" height="12" fill="#ffe4e1"/>
<rect x="674" y="328" width="2" height="12" fill="#ffe4e1"/>
<rect x="677" y="320" width="1" height="9" fill="#ffe4e1"/>
<rect x="676" y="320" width="3" height="9" fill="#ffe4e1"/>
<rect x="677" y="321" width="1" height="7" fill="#000"/>
<rect x="680" y="319" width="1" height="6" fill="#ff0000"/>
<rect x="679" y="319" width="2" height="6" fill="#ff0000"/>
<rect x="682" y="312" width="1" height="11" fill="#ffe4e1"/>
<rect x="681" y="312" width="2" height="11" fill="#ffe4e1"/>
<rect x="684" y="298" width="1" height="13" fill="#ffe4e1"/>
<rect x="683" y="298" width="3" height="13" fill="#ffe4e1"/>
<rect x="684" y="299" width="1" height="11" fill="#000"/>
<rect x="687" y="296" width="1" height="13" fill="#ff0000"/>
<rect x="686" y="299" width="2" height="10" fill="#ff0000"/>
<rect x="689" y="298" width="1" height="11" fill="#ffe4e1"/>
<rect x="688" y="302" width="2" height="6" fill="#ffe4e1"/>
<rect x="691" y="301" width="1" height="7" fill="#ff0000"/>
<rect x="690" y="301" width="3" height="7" fill="#ff0000"/>
<rect x="694" y="304" width="1" height="3" fill="#ffe4e1"/>
<rect x="693" y="304" width="2" height="3" fill="#ffe4e1"/>
<rect x="696" y="300" width="1" height="6" fill="#ffe4e1"/>
<rect x="695" y="300" width="2" height="6" fill="#ffe4e1"/>
<rect x="698" y="291" width="1" height="9" fill="#ffe4e1"/>
<rect x="697" y="291" width="3" height="9" fill="#ffe4e1"/>
<rect x="698" y="292" width="1" height="7" fill="#000"/>
<rect x="701" y="287" width="1" height="5" fill="#ffe4e1"/>
<rect x="700" y="287" width="2" height="5" fill="#ffe4e1"/>
<rect x="703" y="277" width="1" height="12" fill="#ffe4e1"/>
<rect x="702" y="277" width="2" height="12" fill="#ffe4e1"/>
<rect x="705" y="267" width="1" height="10" fill="#ffe4e1"/>
<rect x="704" y="271" width="3" height="6" fill="#ffe4e1"/>
<rect x="705" y="272" width="1" height="4" fill="#000"/>
<rect x="708" y="262" width="1" height="11" fill="#ffe4e1"/>
<rect x="707" y="262" width="2" height="11" fill="#ffe4e1"/>
<rect x="710" y="248" width="1" height="16" fill="#ffe4e1"/>
<rect x="709" y="248" width="2" height="16" fill="#ffe4e1"/>
<rect x="712" y="239" width="1" height="10" fill="#ffe4e1"/>
<rect x="711" y="241" width="3" height="8" fill="#ffe4e1"/>
<rect x="712" y="242" width="1" height="6" fill="#000"/>
<rect x="715" y="229" width="1" height="10" fill="#ffe4e1"/>
<rect x="714" y="229" width="2" height="10" fill="#ffe4e1"/>
<rect x="717" y="230" width="1" height="9" fill="#ff0000"/>
<rect x="716" y="230" width="2" height="9" fill="#ff0000"/>
<rect x="719" y="221" width="1" height="10" fill="#ffe4e1"/>
<rect x="718" y="224" width="3" height="7" fill="#ffe4e1"/>
<rect x="719" y="225" width="1" height="5" fill="#000"/>
<rect x="722" y="222" width="1" height="6" fill="#ff0000"/>
<rect x="721" y="222" width="2" height="6" fill="#ff0000"/>
<rect x="724" y="210" width="1" height="18" fill="#ffe4e1"/>
<rect x="723" y="210" width="2" height="18" fill="#ffe4e1"/>
<rect x="726" y="195" width="1" height="19" fill="#ffe4e1"/>
<rect x="725" y="197" width="3" height="13" fill="#ffe4e1"/>
<rect x="726" y="198" width="1" height="11" fill="#000"/>
<rect x="729" y="193" width="1" height="12" fill="#ff0000"/>
<rect x="728" y="196" width="2" height="9" fill="#ff0000"/>
<rect x="731" y="197" width="1" height="26" fill="#ff0000"/>
<rect x="730" y="197" width="2" height="26" fill="#ff0000"/>
<rect x="733" y="213" width="1" height="21" fill="#ff0000"/>
<rect x="732" y="213" width="3" height="15" fill="#ff0000"/>
<rect x="736" y="216" width="1" height="8" fill="#ffe4e1"/>
<rect x="735" y="216" width="2" height="8" fill="#ffe4e1"/>
<rect x="738" y="215" width="1" height="10" fill="#ff0000"/>
<rect x="737" y="215" width="2" height="10" fill="#ff0000"/>
<rect x="740" y="198" width="1" height="30" fill="#ffe4e1"/>
<rect x="739" y="198" width="3" height="29" fill="#ffe4e1"/>
<rect x="740" y="199" width="1" height="27" fill="#000"/>
<rect x="743" y="177" width="1" height="21" fill="#ffe4e1"/>
<rect x="742" y="177" width="2" height="21" fill="#ffe4e1"/>
<rect x="745" y="174" width="1" height="11" fill="#ff0000"/>
<rect x="744" y="174" width="2" height="11" fill="#ff0000"/>
<rect x="747" y="156" width="1" height="20" fill="#ffe4e1"/>
<rect x="746" y="156" width="3" height="20" fill="#ffe4e1"/>
<rect x="747" y="157" width="1" height="18" fill="#000"/>
<rect x="750" y="152" width="1" height="27" fill="#ff0000"/>
<rect x="749" y="152" width="2" height="27" fill="#ff0000"/>
<rect x="752" y="151" width="1" height="20" fill="#ffe4e1"/>
<rect x="751" y="151" width="2" height="17" fill="#ffe4e1"/>
<rect x="754" y="142" width="1" height="9" fill="#ffe4e1"/>
<rect x="753" y="142" width="3" height="9" fill="#ffe4e1"/>
<rect x="754" y="143" width="1" height="7" fill="#000"/>
<rect x="757" y="140" width="1" height="44" fill="#ff0000"/>
<rect x="756" y="140" width="2" height="20" fill="#ff0000"/>
<rect x="759" y="155" width="1" height="33" fill="#ffe4e1"/>
<rect x="758" y="159" width="3" height="25" fill="#ffe4e1"/>
<rect x="759" y="160" width="1" height="23" fill="#000"/>
<rect x="762" y="148" width="1" height="22" fill="#ffe4e1"/>
<rect x="761" y="148" width="2" height="22" fill="#ffe4e1"/>
<rect x="764" y="119" width="1" height="28" fill="#ffe4e1"/>
<rect x="763" y="119" width="2" height="28" fill="#ffe4e1"/>
<rect x="766" y="114" width="1" height="12" fill="#ffe4e1"/>
<rect x="765" y="114" width="3" height="6" fill="#ffe4e1"/>
<rect x="766" y="115" width="1" height="4" fill="#000"/>
<rect x="769" y="108" width="1" height="10" fill="#ffe4e1"/>
<rect x="768" y="108" width="2" height="10" fill="#ffe4e1"/>
<rect x="771" y="98" width="1" height="14" fill="#ffe4e1"/>
<rect x="770" y="98" width="2" height="14" fill="#ffe4e1"/>
<rect x="773" y="84" width="1" height="23" fill="#ffe4e1"/>
<rect x="772" y="86" width="3" height="15" fill="#ffe4e1"/>
<rect x="773" y="87" width="1" height="13" fill="#000"/>
<rect x="776" y="79" width="1" height="17" fill="#ff0000"/>
<rect x="775" y="79" width="2" height="17" fill="#ff0000"/>
<rect x="778" y="72" width="1" height="27" fill="#ffe4e1"/>
<rect x="777" y="72" width="2" height="27" fill="#ffe4e1"/>
<rect x="780" y="72" width="1" height="35" fill="#ff0000"/>
<rect x="779" y="72" width="3" height="18" fill="#ff0000"/>
<rect x="783" y="65" width="1" height="13" fill="#ffe4e1"/>
<rect x="782" y="65" width="2" height="13" fill="#ffe4e1"/>
<rect x="785" y="42" width="1" height="20" fill="#ffe4e1"/>
<rect x="784" y="42" width="2" height="20" fill="#ffe4e1"/>
<rect x="787" y="15" width="1" height="27" fill="#ffe4e1"/>
<rect x="786" y="15" width="3" height="26" fill="#ffe4e1"/>
<rect x="787" y="16" width="1" height="24" fill="#000"/>
<rect x="790" y="13" width="1" height="29" fill="#ff0000"/>
<rect x="789" y="13" width="2" height="29" fill="#ff0000"/>
<rect x="792" y="20" width="1" height="13" fill="#ffe4e1"/>
<rect x="791" y="20" width="2" height="10" fill="#ffe4e1"/>
<rect x="794" y="17" width="1" height="9" fill="#ffe4e1"/>
<rect x="793" y="17" width="3" height="6" fill="#ffe4e1"/>
<rect x="794" y="18" width="1" height="4" fill="#000"/>
<rect x="797" y="10" width="1" height="9" fill="#ffe4e1"/>
<rect x="796" y="13" width="2" height="6" fill="#ffe4e1"/>
<rect x="799" y="15" width="1" height="7" fill="#ff0000"/>
<rect x="798" y="15" width="2" height="7" fill="#ff0000"/>
<rect x="801" y="17" width="1" height="29" fill="#ff0000"/>
<rect x="800" y="17" width="3" height="29" fill="#ff0000"/>
<rect x="804" y="45" width="1" height="14" fill="#ff0000"/>
<rect x="803" y="45" width="2" height="14" fill="#ff0000"/>
<rect x="806" y="52" width="1" height="26" fill="#ff0000"/>
<rect x="805" y="52" width="2" height="26" fill="#ff0000"/>
<rect x="808" y="76" width="1" height="16" fill="#ff0000"/>
<rect x="807" y="76" width="3" height="16" fill="#ff0000"/>
<rect x="811" y="82" width="1" height="55" fill="#ff0000"/>
<rect x="810" y="88" width="2" height="40" fill="#ff0000"/>
<rect x="813" y="128" width="1" height="51" fill="#ff0000"/>
<rect x="812" y="128" width="2" height="18" fill="#ff0000"/>
<rect x="815" y="120" width="1" height="44" fill="#ffe4e1"/>
<rect x="814" y="120" width="3" height="17" fill="#ffe4e1"/>
<rect x="815" y="121" width="1" height="15" fill="#000"/>
<rect x="818" y="107" width="1" height="13" fill="#ffe4e1"/>
<rect x="817" y="107" width="2" height="8" fill="#ffe4e1"/>
<rect x="820" y="101" width="1" height="31" fill="#ff0000"/>
<rect x="819" y="104" width="2" height="21" fill="#ff0000"/>
<rect x="822" y="125" width="1" height="8" fill="#ff0000"/>
<rect x="821" y="129" width="3" height="3" fill="#ff0000"/>
<rect x="825" y="114" width="1" height="20" fill="#ffe4e1"/>
<rect x="824" y="114" width="2" height="18" fill="#ffe4e1"/>
<rect x="827" y="115" width="1" height="8" fill="#ff0000"/>
<rect x="826" y="115" width="2" height="8" fill="#ff0000"/>
<rect x="829" y="124" width="1" height="16" fill="#ffe4e1"/>
<rect x="828" y="124" width="3" height="9" fill="#ffe4e1"/>
<rect x="829" y="125" width="1" height="7" fill="#000"/>
<rect x="832" y="102" width="1" height="20" fill="#ffe4e1"/>
<rect x="831" y="102" width="2" height="20" fill="#ffe4e1"/>
<rect x="834" y="96" width="1" height="18" fill="#ff0000"/>
<rect x="833" y="99" width="2" height="15" fill="#ff0000"/>
<rect x="836" y="108" width="1" height="9" fill="#ff0000"/>
<rect x="835" y="108" width="3" height="9" fill="#ff0000"/>
<rect x="839" y="112" width="1" height="13" fill="#ff0000"/>
<rect x="838" y="112" width="2" height="13" fill="#ff0000"/>
<rect x="841" y="123" width="1" height="47" fill="#ff0000"/>
<rect x="840" y="123" width="2" height="47" fill="#ff0000"/>
<rect x="843" y="160" width="1" height="53" fill="#ff0000"/>
<rect x="842" y="160" width="3" height="32" fill="#ff0000"/>
<rect x="846" y="187" width="1" height="36" fill="#ff0000"/>
<rect x="845" y="187" width="2" height="9" fill="#ff0000"/>
<rect x="848" y="179" width="1" height="25" fill="#ffe4e1"/>
<rect x="847" y="179" width="2" height="11" fill="#ffe4e1"/>
<rect x="850" y="166" width="1" height="16" fill="#ffe4e1"/>
<rect x="849" y="169" width="3" height="9" fill="#ffe4e1"/>
<rect x="850" y="170" width="1" height="7" fill="#000"/>
<rect x="853" y="168" width="1" height="16" fill="#ff0000"/>
<rect x="852" y="168" width="2" height="16" fill="#ff0000"/>
<rect x="855" y="185" width="1" height="11" fill="#ff0000"/>
<rect x="854" y="185" width="2" height="3" fill="#ff0000"/>
<rect x="857" y="180" width="1" height="6" fill="#ffe4e1"/>
<rect x="856" y="184" width="3" height="2" fill="#ffe4e1"/>
<rect x="860" y="182" width="1" height="9" fill="#ff0000"/>
<rect x="859" y="182" width="2" height="9" fill="#ff0000"/>
<rect x="862" y="195" width="1" height="53" fill="#ff0000"/>
<rect x="861" y="195" width="2" height="53" fill="#ff0000"/>
<rect x="864" y="248" width="1" height="15" fill="#ff0000"/>
<rect x="863" y="251" width="3" height="6" fill="#ff0000"/>
</g>
<defs><filter id="cr" x="0" y="0" width="100%" height="100%" filterUnits="userSpaceOnUse" color-interpolation-filters="sRGB"><feComponentTransfer><feFuncA type="linear" slope="200" intercept="-84"/></feComponentTransfer></filter></defs>
<g filter="url(#cr)">
<text x="624.875 631.875 634.875 641.5" y="13" fill="#ffffff">0.0%</text>
<text x="617.875 624.875 631.875 634.875 641.5" y="255" fill="#ffffff">68.5%</text>
<text x="617.875 624.875 631.875 634.875 641.5" y="283" fill="#ffffff">76.4%</text>
<text x="610.875 617.875 624.875 631.875 634.875 641.5" y="366" fill="#ffffff">100.0%</text>
<text x="493.875 500.875 503.875 510.5" y="13" fill="#ff00ff">0.0%</text>
<text x="486.875 493.875 500.875 503.875 510.5" y="256" fill="#ff00ff">56.4%</text>
<text x="486.875 493.875 500.875 503.875 510.5" y="279" fill="#ff00ff">61.8%</text>
<text x="486.875 493.875 500.875 503.875 510.5" y="308" fill="#ff00ff">68.5%</text>
<text x="486.875 493.875 500.875 503.875 510.5" y="342" fill="#ff00ff">76.4%</text>
<text x="479.875 486.875 493.875 500.875 503.875 510.5" y="443" fill="#ff00ff">100.0%</text>
<text x="309.875 316.875 319.875 326.5" y="13" fill="#ff0000">0.0%</text>
<text x="302.875 309.875 316.875 319.875 326.5" y="253" fill="#ff0000">50.0%</text>
<text x="302.875 309.875 316.875 319.875 326.5" y="283" fill="#ff0000">56.4%</text>
<text x="302.875 309.875 316.875 319.875 326.5" y="309" fill="#ff0000">61.8%</text>
<text x="302.875 309.875 316.875 319.875 326.5" y="341" fill="#ff0000">68.5%</text>
<text x="295.875 302.875 309.875 316.875 319.875 326.5" y="492" fill="#ff0000">100.0%</text>
<text x="217.875 224.875 227.875 234.5" y="14" fill="#0000ff">0.0%</text>
<text x="210.875 217.875 224.875 227.875 234.5" y="252" fill="#0000ff">44.7%</text>
<text x="210.875 217.875 224.875 227.875 234.5" y="280" fill="#0000ff">50.0%</text>
<text x="210.875 217.875 224.875 227.875 234.5" y="314" fill="#0000ff">56.4%</text>
<text x="210.875 217.875 224.875 227.875 234.5" y="343" fill="#0000ff">61.8%</text>
<text x="203.875 210.875 217.875 224.875 227.875 234.5" y="546" fill="#0000ff">100.0%</text>
<text x="910.875 917.875 924.875 931.875" y="508" fill="#fff">1000</text>
<text x="910.875 917.875 924.875 931.875" y="456" fill="#fff">1500</text>
<text x="910.875 917.875 924.875 931.875" y="403" fill="#fff">2000</text>
<text x="910.875 917.875 924.875 931.875" y="351" fill="#fff">2500</text>
<text x="910.875 917.875 924.875 931.875" y="299" fill="#fff">3000</text>
<text x="910.875 917.875 924.875 931.875" y="247" fill="#fff">3500</text>
<text x="910.875 917.875 924.875 931.875" y="195" fill="#fff">4000</text>
<text x="910.875 917.875 924.875 931.875" y="143" fill="#fff">4500</text>
<text x="910.875 917.875 924.875 931.875" y="91" fill="#fff">5000</text>
<text x="910.875 917.875 924.875 931.875" y="39" fill="#fff">5500</text>
<text x="8.625 15.625 22.625 29.625" y="572" fill="#fff">2001</text>
<text x="130.625 137.625 144.625 151.625" y="572" fill="#fff">2002</text>
<text x="251.625 258.625 265.625 272.625" y="572" fill="#fff">2003</text>
<text x="373.625 380.625 387.625 394.625" y="572" fill="#fff">2004</text>
<text x="497.625 504.625 511.625 518.625" y="572" fill="#fff">2005</text>
<text x="619.625 626.625 633.625 640.625" y="572" fill="#fff">2006</text>
<text x="740.625 747.625 754.625 761.625" y="572" fill="#fff">2007</text>
<text x="862.625 869.625 876.625 883.625" y="572" fill="#fff">2008</text>
<text class="b" x="325.4" y="538" fill="#0000ff" textLength="38" lengthAdjust="spacing">dołek</text><text class="b" x="368.6" y="538" fill="#0000ff">z</text><text class="b" x="381.6" y="538" fill="#0000ff" textLength="37.6" lengthAdjust="spacing">10'98</text>
</g>
<g shape-rendering="crispEdges">
<rect x="663" y="8" width="229" height="1" fill="#ffffff"/>
<path d="M663 250.5H892" stroke="#ffffff" stroke-width="1" stroke-dasharray="3 3" fill="none"/>
<path d="M663 278.5H892" stroke="#ffffff" stroke-width="1" stroke-dasharray="3 3" fill="none"/>
<rect x="663" y="361" width="229" height="1" fill="#ffffff"/>
<rect x="532" y="8" width="360" height="1" fill="#ff00ff"/>
<path d="M532 251.5H892" stroke="#ff00ff" stroke-width="1" stroke-dasharray="3 3" fill="none"/>
<path d="M532 274.5H892" stroke="#ff00ff" stroke-width="1" stroke-dasharray="3 3" fill="none"/>
<path d="M532 303.5H892" stroke="#ff00ff" stroke-width="1" stroke-dasharray="3 3" fill="none"/>
<path d="M532 337.5H892" stroke="#ff00ff" stroke-width="1" stroke-dasharray="3 3" fill="none"/>
<rect x="532" y="438" width="360" height="1" fill="#ff00ff"/>
<rect x="348" y="8" width="544" height="1" fill="#ff0000"/>
<path d="M348 248.5H892" stroke="#ff0000" stroke-width="1" stroke-dasharray="3 3" fill="none"/>
<path d="M348 278.5H892" stroke="#ff0000" stroke-width="1" stroke-dasharray="3 3" fill="none"/>
<path d="M348 304.5H892" stroke="#ff0000" stroke-width="1" stroke-dasharray="3 3" fill="none"/>
<path d="M348 336.5H892" stroke="#ff0000" stroke-width="1" stroke-dasharray="3 3" fill="none"/>
<rect x="348" y="487" width="544" height="1" fill="#ff0000"/>
<rect x="256" y="9" width="636" height="1" fill="#0000ff"/>
<path d="M256 247.5H892" stroke="#0000ff" stroke-width="1" stroke-dasharray="3 3" fill="none"/>
<path d="M256 275.5H892" stroke="#0000ff" stroke-width="1" stroke-dasharray="3 3" fill="none"/>
<path d="M256 309.5H892" stroke="#0000ff" stroke-width="1" stroke-dasharray="3 3" fill="none"/>
<path d="M256 338.5H892" stroke="#0000ff" stroke-width="1" stroke-dasharray="3 3" fill="none"/>
<rect x="0" y="541" width="892" height="1" fill="#0000ff"/>
<rect x="892" y="1" width="1" height="554" fill="#fff"/>
<rect x="0" y="555" width="892" height="1" fill="#fff"/>
<rect x="893" y="554" width="8" height="1" fill="#fff"/>
<rect x="893" y="543" width="3" height="1" fill="#fff"/>
<rect x="893" y="533" width="3" height="1" fill="#fff"/>
<rect x="893" y="522" width="3" height="1" fill="#fff"/>
<rect x="893" y="512" width="3" height="1" fill="#fff"/>
<rect x="893" y="502" width="8" height="1" fill="#fff"/>
<rect x="893" y="491" width="3" height="1" fill="#fff"/>
<rect x="893" y="481" width="3" height="1" fill="#fff"/>
<rect x="893" y="470" width="3" height="1" fill="#fff"/>
<rect x="893" y="460" width="3" height="1" fill="#fff"/>
<rect x="893" y="450" width="8" height="1" fill="#fff"/>
<rect x="893" y="439" width="3" height="1" fill="#fff"/>
<rect x="893" y="429" width="3" height="1" fill="#fff"/>
<rect x="893" y="418" width="3" height="1" fill="#fff"/>
<rect x="893" y="408" width="3" height="1" fill="#fff"/>
<rect x="893" y="397" width="8" height="1" fill="#fff"/>
<rect x="893" y="387" width="3" height="1" fill="#fff"/>
<rect x="893" y="377" width="3" height="1" fill="#fff"/>
<rect x="893" y="366" width="3" height="1" fill="#fff"/>
<rect x="893" y="356" width="3" height="1" fill="#fff"/>
<rect x="893" y="345" width="8" height="1" fill="#fff"/>
<rect x="893" y="335" width="3" height="1" fill="#fff"/>
<rect x="893" y="324" width="3" height="1" fill="#fff"/>
<rect x="893" y="314" width="3" height="1" fill="#fff"/>
<rect x="893" y="304" width="3" height="1" fill="#fff"/>
<rect x="893" y="293" width="8" height="1" fill="#fff"/>
<rect x="893" y="283" width="3" height="1" fill="#fff"/>
<rect x="893" y="272" width="3" height="1" fill="#fff"/>
<rect x="893" y="262" width="3" height="1" fill="#fff"/>
<rect x="893" y="252" width="3" height="1" fill="#fff"/>
<rect x="893" y="241" width="8" height="1" fill="#fff"/>
<rect x="893" y="231" width="3" height="1" fill="#fff"/>
<rect x="893" y="220" width="3" height="1" fill="#fff"/>
<rect x="893" y="210" width="3" height="1" fill="#fff"/>
<rect x="893" y="199" width="3" height="1" fill="#fff"/>
<rect x="893" y="189" width="8" height="1" fill="#fff"/>
<rect x="893" y="179" width="3" height="1" fill="#fff"/>
<rect x="893" y="168" width="3" height="1" fill="#fff"/>
<rect x="893" y="158" width="3" height="1" fill="#fff"/>
<rect x="893" y="147" width="3" height="1" fill="#fff"/>
<rect x="893" y="137" width="8" height="1" fill="#fff"/>
<rect x="893" y="126" width="3" height="1" fill="#fff"/>
<rect x="893" y="116" width="3" height="1" fill="#fff"/>
<rect x="893" y="106" width="3" height="1" fill="#fff"/>
<rect x="893" y="95" width="3" height="1" fill="#fff"/>
<rect x="893" y="85" width="8" height="1" fill="#fff"/>
<rect x="893" y="74" width="3" height="1" fill="#fff"/>
<rect x="893" y="64" width="3" height="1" fill="#fff"/>
<rect x="893" y="54" width="3" height="1" fill="#fff"/>
<rect x="893" y="43" width="3" height="1" fill="#fff"/>
<rect x="893" y="33" width="8" height="1" fill="#fff"/>
<rect x="893" y="22" width="3" height="1" fill="#fff"/>
<rect x="893" y="12" width="3" height="1" fill="#fff"/>
<rect x="893" y="1" width="3" height="1" fill="#fff"/>
<rect x="6" y="555" width="1" height="20" fill="#fff"/>
<rect x="16" y="556" width="1" height="4" fill="#fff"/>
<rect x="25" y="556" width="1" height="4" fill="#fff"/>
<rect x="37" y="556" width="1" height="4" fill="#fff"/>
<rect x="46" y="556" width="1" height="4" fill="#fff"/>
<rect x="55" y="556" width="1" height="4" fill="#fff"/>
<rect x="67" y="556" width="1" height="4" fill="#fff"/>
<rect x="76" y="556" width="1" height="4" fill="#fff"/>
<rect x="88" y="556" width="1" height="4" fill="#fff"/>
<rect x="97" y="556" width="1" height="4" fill="#fff"/>
<rect x="107" y="556" width="1" height="4" fill="#fff"/>
<rect x="118" y="556" width="1" height="4" fill="#fff"/>
<rect x="128" y="555" width="1" height="20" fill="#fff"/>
<rect x="137" y="556" width="1" height="4" fill="#fff"/>
<rect x="146" y="556" width="1" height="4" fill="#fff"/>
<rect x="158" y="556" width="1" height="4" fill="#fff"/>
<rect x="168" y="556" width="1" height="4" fill="#fff"/>
<rect x="179" y="556" width="1" height="4" fill="#fff"/>
<rect x="189" y="556" width="1" height="4" fill="#fff"/>
<rect x="198" y="556" width="1" height="4" fill="#fff"/>
<rect x="210" y="556" width="1" height="4" fill="#fff"/>
<rect x="219" y="556" width="1" height="4" fill="#fff"/>
<rect x="228" y="556" width="1" height="4" fill="#fff"/>
<rect x="240" y="556" width="1" height="4" fill="#fff"/>
<rect x="249" y="555" width="1" height="20" fill="#fff"/>
<rect x="261" y="556" width="1" height="4" fill="#fff"/>
<rect x="270" y="556" width="1" height="4" fill="#fff"/>
<rect x="280" y="556" width="1" height="4" fill="#fff"/>
<rect x="289" y="556" width="1" height="4" fill="#fff"/>
<rect x="301" y="556" width="1" height="4" fill="#fff"/>
<rect x="310" y="556" width="1" height="4" fill="#fff"/>
<rect x="320" y="556" width="1" height="4" fill="#fff"/>
<rect x="331" y="556" width="1" height="4" fill="#fff"/>
<rect x="341" y="556" width="1" height="4" fill="#fff"/>
<rect x="352" y="556" width="1" height="4" fill="#fff"/>
<rect x="362" y="556" width="1" height="4" fill="#fff"/>
<rect x="371" y="555" width="1" height="20" fill="#fff"/>
<rect x="383" y="556" width="1" height="4" fill="#fff"/>
<rect x="392" y="556" width="1" height="4" fill="#fff"/>
<rect x="401" y="556" width="1" height="4" fill="#fff"/>
<rect x="413" y="556" width="1" height="4" fill="#fff"/>
<rect x="422" y="556" width="1" height="4" fill="#fff"/>
<rect x="432" y="556" width="1" height="4" fill="#fff"/>
<rect x="443" y="556" width="1" height="4" fill="#fff"/>
<rect x="453" y="556" width="1" height="4" fill="#fff"/>
<rect x="462" y="556" width="1" height="4" fill="#fff"/>
<rect x="474" y="556" width="1" height="4" fill="#fff"/>
<rect x="483" y="556" width="1" height="4" fill="#fff"/>
<rect x="495" y="555" width="1" height="20" fill="#fff"/>
<rect x="504" y="556" width="1" height="4" fill="#fff"/>
<rect x="514" y="556" width="1" height="4" fill="#fff"/>
<rect x="523" y="556" width="1" height="4" fill="#fff"/>
<rect x="535" y="556" width="1" height="4" fill="#fff"/>
<rect x="544" y="556" width="1" height="4" fill="#fff"/>
<rect x="553" y="556" width="1" height="4" fill="#fff"/>
<rect x="565" y="556" width="1" height="4" fill="#fff"/>
<rect x="574" y="556" width="1" height="4" fill="#fff"/>
<rect x="586" y="556" width="1" height="4" fill="#fff"/>
<rect x="595" y="556" width="1" height="4" fill="#fff"/>
<rect x="605" y="556" width="1" height="4" fill="#fff"/>
<rect x="617" y="555" width="1" height="20" fill="#fff"/>
<rect x="626" y="556" width="1" height="4" fill="#fff"/>
<rect x="635" y="556" width="1" height="4" fill="#fff"/>
<rect x="647" y="556" width="1" height="4" fill="#fff"/>
<rect x="656" y="556" width="1" height="4" fill="#fff"/>
<rect x="666" y="556" width="1" height="4" fill="#fff"/>
<rect x="677" y="556" width="1" height="4" fill="#fff"/>
<rect x="687" y="556" width="1" height="4" fill="#fff"/>
<rect x="696" y="556" width="1" height="4" fill="#fff"/>
<rect x="708" y="556" width="1" height="4" fill="#fff"/>
<rect x="717" y="556" width="1" height="4" fill="#fff"/>
<rect x="726" y="556" width="1" height="4" fill="#fff"/>
<rect x="738" y="555" width="1" height="20" fill="#fff"/>
<rect x="747" y="556" width="1" height="4" fill="#fff"/>
<rect x="757" y="556" width="1" height="4" fill="#fff"/>
<rect x="769" y="556" width="1" height="4" fill="#fff"/>
<rect x="778" y="556" width="1" height="4" fill="#fff"/>
<rect x="787" y="556" width="1" height="4" fill="#fff"/>
<rect x="799" y="556" width="1" height="4" fill="#fff"/>
<rect x="808" y="556" width="1" height="4" fill="#fff"/>
<rect x="820" y="556" width="1" height="4" fill="#fff"/>
<rect x="829" y="556" width="1" height="4" fill="#fff"/>
<rect x="839" y="556" width="1" height="4" fill="#fff"/>
<rect x="850" y="556" width="1" height="4" fill="#fff"/>
<rect x="860" y="555" width="1" height="20" fill="#fff"/>
<rect x="869" y="556" width="1" height="4" fill="#fff"/>
<rect x="881" y="556" width="1" height="4" fill="#fff"/>
</g>
</svg>
</body></html>
